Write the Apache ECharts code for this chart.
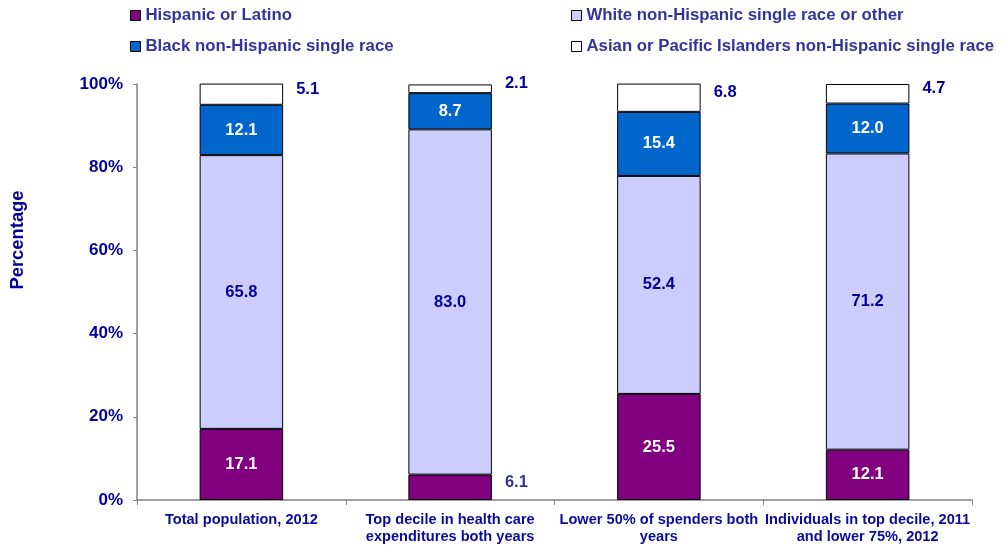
<!DOCTYPE html>
<html>
<head>
<meta charset="utf-8">
<script src="https://cdn.jsdelivr.net/npm/echarts@6/dist/echarts.min.js"></script>
<style>html,body{margin:0;padding:0;background:#fff}#c{width:1006px;height:545px}</style>
</head>
<body>
<div id="c"></div>
<script>
var categories = ["Total population, 2012", "Top decile in health care\nexpenditures both years", "Lower 50% of spenders both\nyears", "Individuals in top decile, 2011\nand lower 75%, 2012"];
var seriesNames = ["Hispanic or Latino", "White non-Hispanic single race or other", "Black non-Hispanic single race", "Asian or Pacific Islanders non-Hispanic single race"];
var hispanic = [17.1, 6.1, 25.5, 12.1];
var white = [65.8, 83.0, 52.4, 71.2];
var black = [12.1, 8.7, 15.4, 12.0];
var asian = [5.1, 2.1, 6.8, 4.7];
var yTicks = [0, 20, 40, 60, 80, 100];

var FONT = 'Liberation Sans, Arial, sans-serif';
var colors = ['#800080', '#CCCCFF', '#0066CC', '#FFFFFF'];
var insideColors = ['#FFFFFF', '#000099', '#FFFFFF', '#000099'];
var outsideColors = ['#333399', '#000099', '#000099', '#000099'];

function mkData(vals, idx) {
  return vals.map(function (v) {
    if (v < 7) {
      return { value: v, label: { position: 'right', offset: [8, -5], color: outsideColors[idx] } };
    }
    return { value: v };
  });
}

var allVals = [hispanic, white, black, asian];
var series = allVals.map(function (vals, i) {
  return {
    name: seriesNames[i],
    type: 'bar',
    stack: 'total',
    barWidth: '40%',
    itemStyle: { color: colors[i], borderColor: '#000', borderWidth: 1 },
    label: {
      show: true,
      position: 'inside',
      color: insideColors[i],
      fontFamily: FONT,
      fontWeight: 'bold',
      fontSize: 16.5,
      formatter: function (p) { return p.value.toFixed(1); }
    },
    data: mkData(vals, i)
  };
});

var legendText = { color: '#333399', fontFamily: FONT, fontWeight: 'bold', fontSize: 16.8 };
var chart = echarts.init(document.getElementById('c'));
chart.setOption({
  backgroundColor: '#fff',
  animation: false,
  legend: [
    {
      data: [seriesNames[0], seriesNames[2]],
      orient: 'vertical', left: 130, top: 7, itemGap: 14, padding: 0,
      icon: 'rect', itemWidth: 10, itemHeight: 10, itemStyle: { borderColor: '#000', borderWidth: 1 },
      textStyle: legendText
    },
    {
      data: [seriesNames[1], seriesNames[3]],
      orient: 'vertical', left: 571, top: 7, itemGap: 14, padding: 0,
      icon: 'rect', itemWidth: 10, itemHeight: 10, itemStyle: { borderColor: '#000', borderWidth: 1 },
      textStyle: legendText
    }
  ],
  grid: { left: 137, right: 34, top: 84, bottom: 45, containLabel: false },
  xAxis: {
    type: 'category',
    data: categories,
    axisLine: { lineStyle: { color: '#808080', width: 1.5 } },
    axisTick: { show: true, length: 5, lineStyle: { color: '#808080' } },
    axisLabel: { color: '#0A0AA0', fontFamily: FONT, fontWeight: 'bold', fontSize: 14.6, lineHeight: 17, margin: 11, interval: 0 }
  },
  yAxis: {
    type: 'value',
    min: 0, max: 100, interval: 20,
    axisLine: { show: true, lineStyle: { color: '#808080', width: 1.5 } },
    axisTick: { show: true, length: 4, lineStyle: { color: '#808080' } },
    splitLine: { show: false },
    axisLabel: {
      color: '#000099', fontFamily: FONT, fontWeight: 'bold', fontSize: 17, margin: 14,
      formatter: function (v) { return yTicks.indexOf(v) >= 0 ? v + '%' : ''; }
    }
  },
  graphic: [{
    type: 'text', x: 18, y: 240, rotation: Math.PI / 2,
    style: { text: 'Percentage', fill: '#000099', font: 'bold 18.4px ' + FONT, textAlign: 'center', textVerticalAlign: 'middle' }
  }],
  series: series
});
</script>
</body>
</html>
